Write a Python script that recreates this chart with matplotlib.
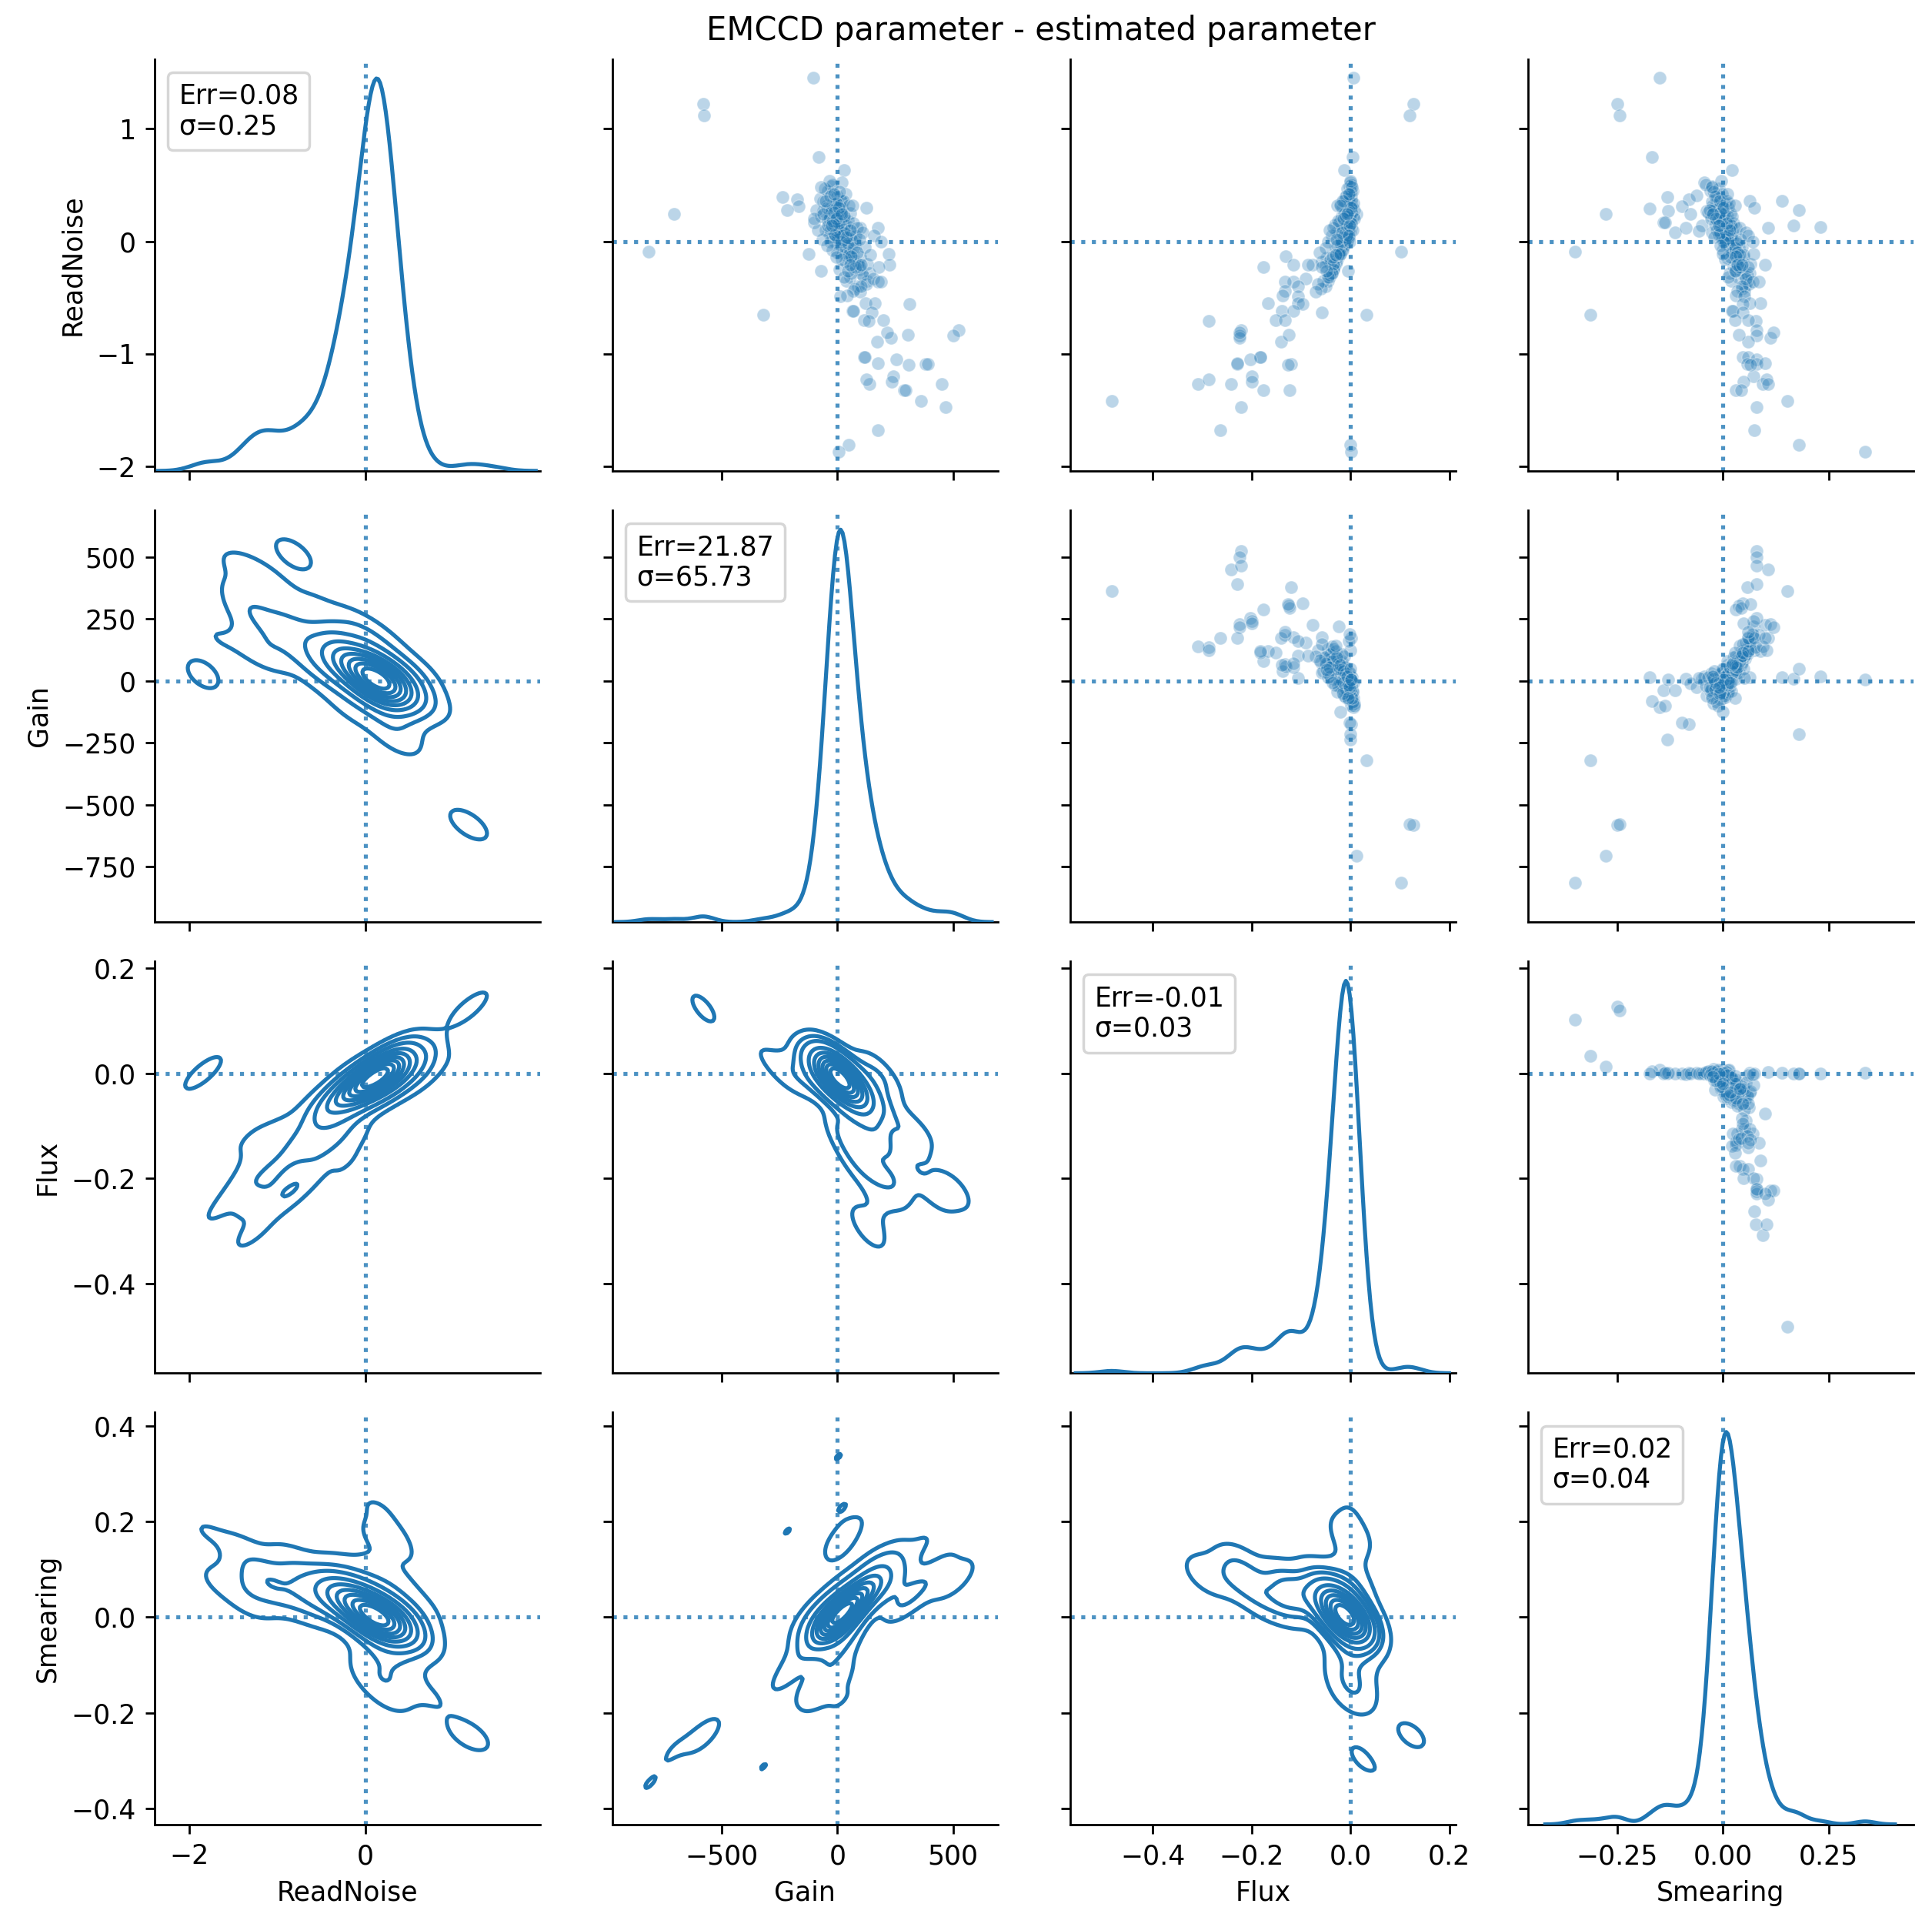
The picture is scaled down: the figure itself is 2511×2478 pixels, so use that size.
import matplotlib
matplotlib.use("Agg")
import matplotlib.pyplot as plt
import pandas as pd
import seaborn as sns

# Values (ReadNoise, Gain, Flux, Smearing per point)

# isolated points
rn_out = [1.45, 1.22, 1.12, 0.75, 0.24, -0.09, -0.65, 0.63, 0.39, 0.37,
          0.31, 0.28, 0.36, 0.14, 0.13, 0.36, 0.12, 0.30]
gain_out = [-105, -581, -578, -82, -705, -815, -320, 28, -237, -175,
            -168, -216, 15, 10, 20, 15, 175, 125]
flux_out = [0.006, 0.127, 0.119, 0.004, 0.013, 0.102, 0.033, -0.012, 0.000, 0.001,
            -0.001, 0.000, 0.001, -0.001, 0.000, 0.001, 0.002, 0.000]
smear_out = [-0.150, -0.250, -0.243, -0.168, -0.277, -0.349, -0.312, 0.022, -0.131, -0.081,
             -0.097, 0.180, 0.140, 0.167, 0.230, 0.064, 0.106, 0.075]

# negative smearing arm
rn_arm = [0.29, 0.17, 0.27, 0.08, 0.12, 0.24, 0.41, 0.14, 0.52, 0.49,
          0.27, 0.09, 0.08, 0.22, 0.35, 0.18, 0.17]
gain_arm = [16, -38, 5, -38, 8, -10, -25, 10, 19, -26,
            -60, 12, 20, 30, 2, 25, -100]
flux_arm = [0.000, -0.001, 0.001, 0.000, -0.002, 0.000, 0.001, -0.001, 0.000, -0.002,
            0.001, 0.000, -0.003, -0.001, 0.000, -0.002, 0.001]
smear_arm = [-0.173, -0.140, -0.129, -0.112, -0.088, -0.076, -0.062, -0.050, -0.044, -0.026,
             -0.038, -0.057, -0.025, -0.028, -0.015, -0.010, -0.137]

# dense core
rn_core = [0.10, 0.15, 0.05, 0.20, 0.12, 0.00, 0.08, 0.18, -0.05, 0.25,
           0.13, 0.03, 0.22, -0.10, 0.16, 0.06, 0.11, 0.28, -0.02, 0.09,
           0.14, 0.19, -0.15, 0.04, 0.07, 0.21, 0.10, -0.08, 0.17, 0.02,
           0.12, 0.24, -0.20, 0.08, 0.15, 0.00, 0.30, -0.12, 0.11, 0.05,
           0.19, -0.25, 0.13, 0.09, 0.03, 0.26, -0.04, 0.16, -0.30, 0.07,
           0.14, 0.01, 0.23, -0.18, 0.10, 0.18, -0.06, 0.12, 0.06, -0.35,
           0.20, 0.04, -0.10, 0.15, 0.09, -0.22, 0.27, 0.02, -0.40, 0.13,
           0.00, 0.17, -0.28, 0.08, 0.32, -0.14, 0.11, 0.05, -0.32, 0.21]
gain_core = [5, -12, 18, -20, 10, 30, 0, -5, 40, -30,
             22, 8, 12, 55, -25, 35, -8, -15, 20, 15,
             2, -40, 70, -2, 28, 5, -18, 45, 18, 60,
             0, -8, 85, 10, 30, -10, -25, 35, 25, 5,
             -12, 95, 8, -30, 45, 0, 15, 12, 110, -15,
             40, 25, -35, 60, 20, 3, 75, -5, 12, 130,
             25, -20, 25, -2, 50, 65, 10, 0, 90, 15,
             80, -20, 140, -5, -45, 100, 5, 22, 55, -10]
flux_core = [-0.004, -0.002, -0.008, 0.000, -0.006, -0.012, -0.003, -0.001, -0.015, 0.001,
             -0.010, -0.005, -0.004, -0.020, 0.000, -0.014, -0.002, 0.000, -0.009, -0.007,
             -0.003, 0.001, -0.025, -0.004, -0.011, -0.002, -0.001, -0.018, -0.006, -0.016,
             -0.003, -0.001, -0.030, -0.006, -0.008, -0.006, 0.002, -0.022, -0.009, -0.005,
             -0.002, -0.035, -0.004, -0.002, -0.013, -0.001, -0.012, -0.005, -0.040, -0.003,
             -0.010, -0.010, 0.000, -0.028, -0.007, -0.003, -0.019, -0.002, -0.006, -0.045,
             -0.006, -0.004, -0.024, -0.002, -0.012, -0.033, -0.002, -0.007, -0.050, -0.005,
             -0.018, -0.001, -0.038, -0.004, 0.002, -0.026, -0.004, -0.008, -0.042, -0.002]
smear_core = [0.000, -0.007, 0.008, -0.016, 0.003, 0.016, -0.004, -0.010, 0.023, -0.022,
              0.006, -0.002, 0.010, 0.028, -0.012, 0.018, -0.006, -0.018, 0.013, 0.002,
              -0.003, -0.014, 0.036, 0.004, 0.012, -0.001, -0.009, 0.026, 0.007, 0.021,
              -0.005, -0.008, 0.040, 0.001, 0.014, 0.006, -0.020, 0.033, 0.009, -0.003,
              -0.011, 0.046, 0.000, -0.002, 0.019, -0.007, 0.015, 0.004, 0.050, -0.006,
              0.017, 0.010, -0.015, 0.030, 0.005, -0.002, 0.038, -0.004, 0.003, 0.058,
              0.008, 0.000, 0.023, -0.006, 0.022, 0.043, -0.003, 0.007, 0.053, 0.002,
              0.032, -0.008, 0.063, -0.001, -0.024, 0.048, -0.002, 0.006, 0.036, -0.005]

# wider halo round the core
rn_halo = [0.35, -0.20, 0.45, 0.05, 0.22, -0.35, 0.30, 0.10, -0.05, 0.40,
           0.18, -0.25, 0.28, 0.00, 0.50, -0.15, 0.12, 0.33, -0.42, 0.20,
           0.08, 0.38, -0.10, 0.25, -0.30, 0.15, 0.42, 0.02, -0.18, 0.30,
           0.05, 0.26, -0.08, 0.47, 0.16, -0.38, 0.22, 0.10, -0.12, 0.36,
           0.00, 0.28, -0.22, 0.14, 0.44, -0.02, 0.20, -0.28, 0.32, 0.06,
           0.54, -0.16, 0.12, 0.24, -0.45, 0.34, 0.04, 0.18, -0.06, 0.40,
           0.08, 0.26, -0.32, 0.16, 0.48, -0.04, 0.22, -0.20, 0.36, 0.10,
           0.30, -0.10, 0.20, 0.02, 0.42, -0.26, 0.14, 0.32, -0.14, 0.24]
gain_halo = [-60, 90, -40, 60, -70, 40, 20, -50, 120, 0,
             45, 10, -90, -30, -20, 65, 100, -10, 75, -35,
             30, -75, 0, 55, 110, -15, 35, -65, 35, -45,
             80, 15, -20, -55, 70, 125, 0, -85, 50, 25,
             15, -25, 95, -40, 10, 45, -100, 60, 50, -10,
             -35, 20, 85, -60, 100, -5, 40, -20, 70, -30,
             110, -15, 30, 5, -70, -45, 30, 130, -50, 55,
             5, 85, -5, 95, -15, 45, -25, 65, -5, 20]
flux_halo = [-0.002, -0.040, 0.004, -0.025, 0.006, -0.055, -0.015, -0.004, -0.030, -0.008,
             -0.020, -0.035, 0.008, -0.018, 0.002, -0.048, -0.012, -0.020, -0.060, 0.000,
             -0.028, -0.004, -0.022, -0.010, -0.042, -0.032, -0.001, -0.010, -0.058, 0.005,
             -0.038, 0.003, -0.015, -0.006, -0.024, -0.065, -0.017, 0.004, -0.030, -0.012,
             -0.045, -0.003, -0.052, -0.008, 0.001, -0.020, 0.007, -0.038, -0.026, -0.006,
             0.000, -0.040, -0.035, -0.012, -0.070, 0.006, -0.014, -0.025, -0.050, -0.010,
             -0.018, -0.005, -0.045, 0.002, 0.003, -0.026, -0.009, -0.034, -0.016, -0.042,
             0.001, -0.062, -0.014, -0.028, -0.003, -0.048, -0.001, -0.020, -0.036, -0.007]
smear_halo = [-0.025, 0.035, -0.030, 0.020, 0.000, 0.020, -0.010, 0.010, 0.045, -0.015,
              0.002, 0.030, -0.022, 0.015, -0.040, 0.010, 0.030, 0.005, 0.045, -0.028,
              -0.005, -0.006, 0.022, 0.018, 0.058, -0.018, -0.002, 0.005, 0.038, 0.012,
              0.010, -0.035, 0.000, -0.010, 0.025, 0.062, -0.007, -0.014, 0.048, 0.008,
              0.002, -0.032, 0.026, 0.020, -0.022, 0.032, -0.012, 0.016, 0.000, -0.010,
              -0.004, 0.005, 0.040, 0.004, 0.050, 0.015, -0.020, -0.002, 0.028, -0.018,
              0.055, -0.006, 0.012, 0.008, -0.026, -0.005, 0.022, 0.065, -0.008, 0.016,
              0.002, 0.035, -0.016, 0.042, 0.010, 0.030, -0.009, 0.028, 0.018, -0.024]

# between core and tail
rn_mid = [-0.11, -0.21, -0.12, -0.23, -0.33, -0.36, -0.36, -0.40, -0.44, -0.48,
          -0.49, -0.11, -0.26, 0.05, 0.00, -0.23, -0.13, -0.21, -0.21]
gain_mid = [221, 226, 142, 178, 154, 176, 187, 103, 69, 41,
            13, -125, -70, 160, 190, 80, 60, 55, 102]
flux_mid = [-0.023, -0.077, -0.030, -0.058, -0.090, -0.115, -0.133, -0.106, -0.133, -0.137,
            -0.106, -0.020, -0.005, -0.003, -0.002, -0.176, -0.131, -0.115, -0.085]
smear_mid = [0.072, 0.100, 0.040, 0.060, 0.055, 0.070, 0.085, 0.045, 0.035, 0.030,
             0.050, 0.000, 0.028, 0.060, 0.070, 0.040, 0.030, 0.035, 0.045]

# long tail (low read noise, high gain)
rn_tail = [-0.55, -0.55, -0.56, -0.62, -0.62, -0.63, -0.70, -0.71, -0.79, -0.84,
           -0.89, -0.83, -0.86, -0.81, -1.03, -1.03, -1.05, -1.09, -1.09, -1.20,
           -1.25, -1.27, -1.23, -1.32, -1.32, -1.27, -1.42, -1.47, -1.68, -1.81,
           -1.87, -1.08, -1.10, -0.70]
gain_tail = [122, 162, 313, 65, 70, 150, 116, 135, 525, 500,
             173, 305, 231, 216, 116, 120, 256, 380, 392, 242,
             234, 139, 124, 288, 295, 451, 362, 467, 174, 50,
             5, 174, 310, 199]
flux_tail = [-0.166, -0.106, -0.096, -0.139, -0.115, -0.058, -0.151, -0.287, -0.221, -0.225,
             -0.141, -0.125, -0.224, -0.224, -0.182, -0.182, -0.202, -0.120, -0.229, -0.200,
             -0.200, -0.308, -0.287, -0.176, -0.123, -0.241, -0.483, -0.221, -0.263, 0.000,
             0.001, -0.229, -0.127, -0.133]
smear_tail = [0.089, 0.063, 0.047, 0.022, 0.024, 0.047, 0.028, 0.077, 0.079, 0.079,
              0.060, 0.038, 0.112, 0.120, 0.047, 0.060, 0.079, 0.057, 0.079, 0.072,
              0.049, 0.094, 0.104, 0.030, 0.044, 0.106, 0.152, 0.079, 0.074, 0.180,
              0.336, 0.100, 0.065, 0.060]

names = ["ReadNoise", "Gain", "Flux", "Smearing"]
err = [0.08, 21.87, -0.01, 0.02]
sigma = [0.25, 65.73, 0.03, 0.04]

# axis ranges and ticks as in the reference
col_lims = [(-2.39, 1.98), (-973, 694), (-0.567, 0.213), (-0.46, 0.45)]
row_lims = [(-2.04, 1.62), (-973, 690), (-0.571, 0.213), (-0.433, 0.428)]
col_ticks = [[-2, 0], [-500, 0, 500], [-0.4, -0.2, 0.0, 0.2], [-0.25, 0.0, 0.25]]
row_ticks = [[-2, -1, 0, 1], [-750, -500, -250, 0, 250, 500],
             [-0.4, -0.2, 0.0, 0.2], [-0.4, -0.2, 0.0, 0.2, 0.4]]


def main():
    df = pd.DataFrame({
        "ReadNoise": rn_out + rn_arm + rn_core + rn_halo + rn_mid + rn_tail,
        "Gain": gain_out + gain_arm + gain_core + gain_halo + gain_mid + gain_tail,
        "Flux": flux_out + flux_arm + flux_core + flux_halo + flux_mid + flux_tail,
        "Smearing": smear_out + smear_arm + smear_core + smear_halo + smear_mid + smear_tail,
    })

    g = sns.PairGrid(df, vars=names, diag_sharey=False, height=2.5)
    g.map_upper(sns.scatterplot, alpha=0.3, s=24)
    g.map_lower(sns.kdeplot)
    g.map_diag(sns.kdeplot)

    # zero reference lines
    for i in range(4):
        for j in range(4):
            ax = g.axes[i, j]
            ax.axvline(0, ls=":", color="C0", alpha=0.8)
            if i != j:
                ax.axhline(0, ls=":", color="C0", alpha=0.8)

    # Err / sigma box on the diagonal
    for i, dax in enumerate(g.diag_axes):
        txt = f"Err={err[i]:.2f}\nσ={sigma[i]:.2f}"
        dax.legend([plt.Line2D([], [], linestyle="")], [txt], loc="upper left",
                   handlelength=0, handletextpad=0)

    for j in range(4):
        g.axes[-1, j].set_xlim(col_lims[j])
        g.axes[-1, j].set_xticks(col_ticks[j])
    for i in range(4):
        g.axes[i, 0].set_ylim(row_lims[i])
        g.axes[i, 0].set_yticks(row_ticks[i])

    fig = g.figure
    fig.set_size_inches(2511 / 250, 2478 / 250)
    fig.subplots_adjust(left=0.080, right=0.9904, bottom=0.0433, top=0.9691,
                        wspace=0.1876, hspace=0.095)
    fig.suptitle("EMCCD parameter - estimated parameter", x=0.539, y=0.984, va="center")
    fig.savefig("out.png", dpi=250)


if __name__ == "__main__":
    main()
